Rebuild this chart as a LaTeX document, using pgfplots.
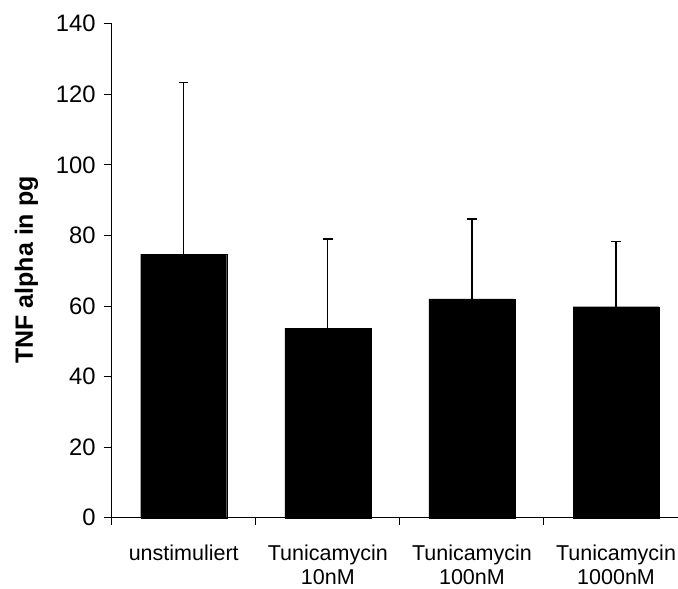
\documentclass[border=0pt]{standalone}
\usepackage{fontspec}
\setmainfont{Liberation Sans}
\usepackage{pgfplots}
\pgfplotsset{compat=1.18}
\begin{document}
\begin{tikzpicture}
\begin{axis}[
  at={(0,0)}, anchor=south west,
  scale only axis,
  width=566.3pt, height=494.1pt,
  xmin=-0.5, xmax=3.43,
  ymin=0, ymax=140,
  enlargelimits=false,
  axis x line*=bottom,
  axis y line*=left,
  axis line style={-, line width=1pt, black},
  clip=false,
  ytick={0,20,...,140},
  xtick={0,1,2,3},
  xticklabels={unstimuliert,Tunicamycin\\10nM,Tunicamycin\\100nM,Tunicamycin\\1000nM},
  minor xtick={-0.5,0.5,1.5,2.5},
  tick align=outside,
  major tick length=8pt,
  minor tick length=7pt,
  major x tick style={draw=none},
  minor x tick style={black, line width=1pt},
  major y tick style={black, line width=1pt},
  /pgf/number format/assume math mode=true,
  yticklabel style={font=\fontsize{23.8}{28}\selectfont, anchor=east, inner sep=0pt, xshift=-8pt},
  xticklabel style={font=\fontsize{21.5}{24}\selectfont, align=center, anchor=north, inner sep=0pt, yshift=-19pt},
]
\addplot[ybar, bar width=86pt, fill=black, draw=black,
  error bars/.cd, y dir=plus, y explicit,
  error mark options={rotate=90, mark size=4.7pt, line width=1.3pt, black},
  error bar style={line width=1.3pt, black}]
  coordinates {
    (0,74.7) +- (0,48.6)
    (1,53.7) +- (0,25.3)
    (2,62.0) +- (0,22.7)
    (3,59.8) +- (0,18.4)
  };
\end{axis}
\node[rotate=90, anchor=base, font=\fontsize{25}{30}\selectfont\bfseries] at (-78.7pt,247.8pt) {TNF alpha in pg};
\pgfresetboundingbox
\useasboundingbox (-111.7pt,-71.2pt) rectangle (566.3pt,517.8pt);
\end{tikzpicture}
\end{document}
